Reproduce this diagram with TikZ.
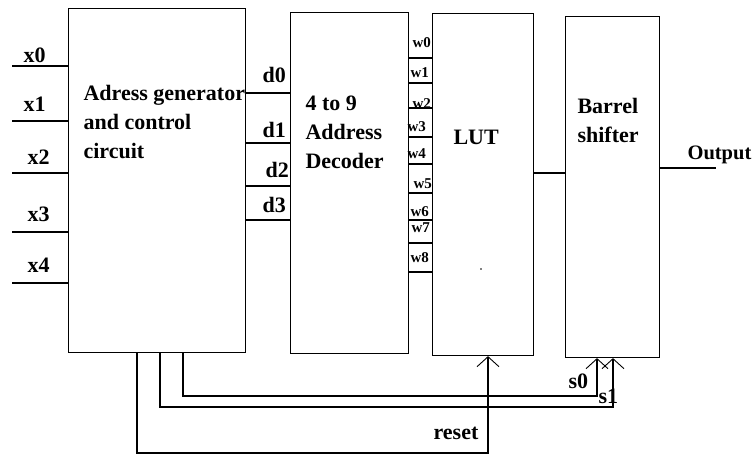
\documentclass[tikz,border=0pt]{standalone}
\usepackage{fontspec}
\setmainfont{Liberation Serif}
\usetikzlibrary{arrows.meta}

\begin{document}
\begin{tikzpicture}[x=1pt,y=-1pt,line width=1.1pt,
	bloque/.style={draw, inner sep=0pt, anchor=north west},
	etq/.style={font=\fontsize{22}{29}\selectfont\bfseries, anchor=base west, inner sep=0pt, align=left},
	etqw/.style={font=\fontsize{15}{15}\selectfont\bfseries, anchor=base west, inner sep=0pt},
	flecha/.style={-{Straight Barb[length=10pt,width=22pt,line width=0.9pt]}}]
	
	\useasboundingbox (0,0) rectangle (753,454);
	
	% Bloques
	\node[bloque, minimum width=177pt, minimum height=344pt] (gen) at (68,8) {};   % Generador
	\node[bloque, minimum width=118pt, minimum height=341pt] (dec) at (290,12) {}; % Decodificador
	\node[bloque, minimum width=101pt, minimum height=342pt] (lut) at (432,13) {}; % LUT
	\node[bloque, minimum width=94pt, minimum height=341pt] (bar) at (565,16) {};  % Barrel
	
	% Textos de los bloques (base = ultima linea)
	\node[etq] (tgen) at (83,159) {Adress generator\\and control\\circuit};
	\node[etq] (tdec) at (305,169) {4 to 9\\Address\\Decoder};
	\node[etq] (tlut) at (453,145) {LUT};
	\node[etq] (tbar) at (577,143) {Barrel\\shifter};
	\fill (481,269) circle (0.9pt); % punto
	
	% Entradas x
	\foreach \i/\y/\lx/\by in {0/66/23/63, 1/121/23/112, 2/173/27/165, 3/232/27/222, 4/283/27/273}{
		\coordinate (x\i) at (12,\y);
		\draw (x\i) -- (x\i -| gen.west);
		\node[etq] (lx\i) at (\lx,\by) {x\i};
	}
	
	% Lineas d
	\foreach \i/\y/\lx/\by in {0/93/262/83, 1/143/262/138, 2/186/265/178, 3/220/262/213}{
		\coordinate (d\i) at (245,\y);
		\draw (d\i) -- (d\i -| dec.west);
		\node[etq] (ld\i) at (\lx,\by) {d\i};
	}
	
	% Lineas w
	\foreach \i/\y/\lx/\by in {0/58/412/48, 1/83/410/78, 2/108/412/109, 3/137/407/132, 4/164/407/159, 5/193/413/189, 6/220/410/217, 7/243/411/233, 8/272/410/263}{
		\coordinate (w\i) at (408,\y);
		\draw (w\i) -- (w\i -| lut.west);
		\node[etqw] (lw\i) at (\lx,\by) {w\i};
	}
	
	% LUT a Barrel y salida
	\coordinate (m) at (533,173);
	\draw (m) -- (m -| bar.west);
	\coordinate (salida) at (716,168);
	\draw (salida -| bar.east) -- (salida);
	\node[etq, font=\fontsize{20.5}{24}\selectfont\bfseries] (lout) at (687,160) {Output};
	
	% Realimentacion
	\coordinate (rst) at (488,453);
	\coordinate (s0) at (597,396);
	\coordinate (s1) at (613,407);
	\draw[flecha] ([xshift=69pt]gen.south west) |- (rst) -- (rst |- lut.south);
	\draw[flecha] ([xshift=115pt]gen.south west) |- (s0) -- (s0 |- bar.south);
	\draw[flecha] ([xshift=92pt]gen.south west) |- (s1) -- (s1 |- bar.south);
	\node[etq] (lrst) at (433,440) {reset};
	\node[etq] (ls0) at (568,389) {s0};
	\node[etq] (ls1) at (598,404) {s1};
	
\end{tikzpicture}
\end{document}
